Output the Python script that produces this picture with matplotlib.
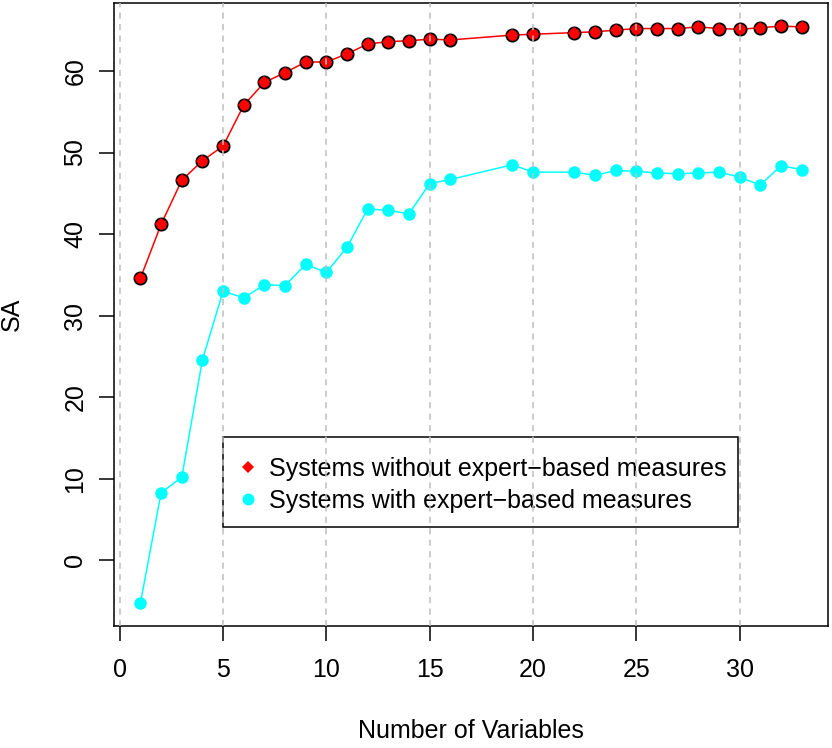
import matplotlib
matplotlib.use('Agg')
import matplotlib.pyplot as plt
from matplotlib.lines import Line2D
from matplotlib.patches import Rectangle

plt.rcParams['font.family'] = ['Liberation Sans', 'DejaVu Sans']

# red series: systems without expert-based measures
x_without = [1, 2, 3, 4, 5, 6, 7, 8, 9, 10, 11, 12, 13, 14, 15, 16,
             19, 20, 22, 23, 24, 25, 26, 27, 28, 29, 30, 31, 32, 33]
sa_without = [34.6, 41.2, 46.6, 49.0, 50.8, 55.8, 58.6, 59.8, 61.1, 61.1, 62.1, 63.3,
              63.6, 63.7, 63.9, 63.8, 64.4, 64.5, 64.7, 64.8, 65.0, 65.2, 65.2, 65.2,
              65.4, 65.2, 65.1, 65.3, 65.5, 65.4]

# cyan series: systems with expert-based measures
x_with = [1, 2, 3, 4, 5, 6, 7, 8, 9, 10, 11, 12, 13, 14, 15, 16,
          19, 20, 22, 23, 24, 25, 26, 27, 28, 29, 30, 31, 32, 33]
sa_with = [-5.2, 8.3, 10.2, 24.6, 33.0, 32.2, 33.8, 33.7, 36.3, 35.3, 38.4, 43.1,
           42.9, 42.5, 46.2, 46.7, 48.5, 47.6, 47.6, 47.2, 47.8, 47.7, 47.5, 47.4,
           47.5, 47.6, 47.0, 46.0, 48.4, 47.9]

legend_labels = ['Systems without expert\u2212based measures',
                 'Systems with expert\u2212based measures']
xticks = [0, 5, 10, 15, 20, 25, 30]
yticks = [0, 10, 20, 30, 40, 50, 60]

fs = 18
fig = plt.figure(figsize=(8.32, 7.48), dpi=100)
ax = fig.add_axes([114/832, 1 - 626/748, 714/832, 623/748])

ax.plot(x_without, sa_without, color='red', lw=1.1, zorder=3)
ax.plot(x_without, sa_without, 'o', ms=8.8, mfc='red', mec='black', mew=1.3, zorder=4)
ax.plot(x_without, sa_without, 'D', ms=6.4, mfc='red', mec='red', mew=0, zorder=4)

ax.plot(x_with, sa_with, color='cyan', lw=1.1, zorder=3)
ax.plot(x_with, sa_with, 'o', ms=9.0, mfc='cyan', mec='cyan', mew=0, zorder=4)

ax.set_xlim(-0.28, 34.28)
ax.set_ylim(-8.03, 68.33)

# vertical dashed grid drawn over everything (as in the original)
for xv in xticks:
    ax.axvline(xv, color='#BEBEBE', lw=1.1, ls=(0, (4, 3.5)), zorder=10)

# legend box
ax.add_patch(Rectangle((0.1527, 0.1589), 0.7213, 0.1445, transform=ax.transAxes,
                       facecolor='white', edgecolor='black', lw=1.1, zorder=5))
handles = [Line2D([], [], ls='none', marker='D', ms=6.5, mfc='red', mec='red', mew=0),
           Line2D([], [], ls='none', marker='o', ms=8.6, mfc='cyan', mec='cyan', mew=0)]
leg = ax.legend(handles, legend_labels, loc='center left', bbox_to_anchor=(0.1704, 0.2268),
                frameon=False, fontsize=fs, borderpad=0, borderaxespad=0,
                handlelength=1.0, handletextpad=0.32, labelspacing=0.33)
leg.set_zorder(6)

ax.set_xticks(xticks)
ax.set_yticks(yticks)
ax.tick_params(axis='both', length=10.8, width=1.1, labelsize=fs, color='black')
ax.tick_params(axis='x', pad=12)
ax.tick_params(axis='y', pad=17)
for lab in ax.get_yticklabels():
    lab.set_rotation(90)
    lab.set_va('center')
    lab.set_ha('center')
for sp in ax.spines.values():
    sp.set_linewidth(1.1)

ax.set_xlabel('Number of Variables', fontsize=fs)
ax.xaxis.set_label_coords(0.5, (626 - 731) / 623)
ax.xaxis.label.set_va('center')
ax.set_ylabel('SA', fontsize=fs)
ax.yaxis.set_label_coords((12 - 114) / 714, 0.5)
ax.yaxis.label.set_va('center')

fig.savefig('out.png', dpi=100)
